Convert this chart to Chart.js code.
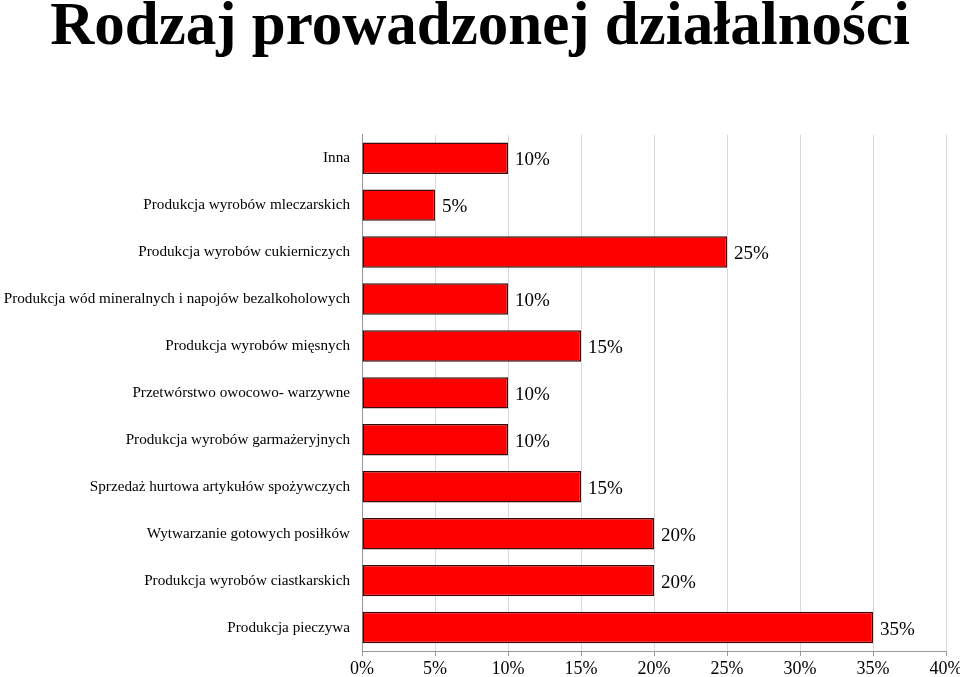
<!DOCTYPE html>
<html>
<head>
<meta charset="utf-8">
<script src="https://cdn.jsdelivr.net/npm/chart.js@4/dist/chart.umd.min.js"></script>
<style>
  html, body { margin: 0; padding: 0; background: #fff; }
  #wrap { width: 960px; height: 677px; }
</style>
</head>
<body>
<div id="wrap"><canvas id="chart" width="960" height="677"></canvas></div>
<script>
var categories = [
    'Inna',
    'Produkcja wyrobów mleczarskich',
    'Produkcja wyrobów cukierniczych',
    'Produkcja wód mineralnych i napojów bezalkoholowych',
    'Produkcja wyrobów mięsnych',
    'Przetwórstwo owocowo- warzywne',
    'Produkcja wyrobów garmażeryjnych',
    'Sprzedaż hurtowa artykułów spożywczych',
    'Wytwarzanie gotowych posiłków',
    'Produkcja wyrobów ciastkarskich',
    'Produkcja pieczywa'
];
var shares = [10, 5, 25, 10, 15, 10, 10, 15, 20, 20, 35];
var axisTicks = [0, 5, 10, 15, 20, 25, 30, 35, 40];

var serif = '"Liberation Serif", "Times New Roman", serif';

// value labels to the right of each bar
var valueLabels = {
    id: 'valueLabels',
    afterDatasetsDraw: function (chart) {
        var c = chart.ctx;
        var meta = chart.getDatasetMeta(0);
        c.save();
        c.font = '19px ' + serif;
        c.fillStyle = '#000';
        c.textAlign = 'left';
        c.textBaseline = 'middle';
        meta.data.forEach(function (bar, i) {
            c.fillText(shares[i] + '%', bar.x + 7, bar.y + 2);
        });
        c.restore();
    }
};

var ctx = document.getElementById('chart');
new Chart(ctx, {
    type: 'bar',
    data: {
        labels: categories,
        datasets: [{
            data: shares,
            backgroundColor: '#ff0000',
            borderColor: '#3a0a0a',
            borderWidth: 1.5,
            borderSkipped: false,
            categoryPercentage: 1,
            barPercentage: 0.67
        }]
    },
    options: {
        indexAxis: 'y',
        responsive: false,
        animation: false,
        layout: { padding: 0 },
        plugins: {
            legend: { display: false },
            tooltip: { enabled: false },
            title: {
                display: true,
                text: 'Rodzaj prowadzonej działalności',
                color: '#000',
                font: { family: serif, size: 61, weight: 'bold', lineHeight: 0.93 },
                padding: { top: 0, bottom: 78 }
            }
        },
        scales: {
            x: {
                min: 0,
                max: 40,
                afterBuildTicks: function (scale) {
                    scale.ticks = axisTicks.map(function (v) { return { value: v }; });
                },
                afterFit: function (scale) {
                    scale.height = 26;
                    scale.paddingRight = 14;
                },
                grid: { color: '#d9d9d9', tickColor: '#999', tickLength: 5, lineWidth: 1 },
                border: { display: true, color: '#999' },
                ticks: {
                    color: '#000',
                    padding: 2,
                    font: { family: serif, size: 18 },
                    callback: function (v) { return v + '%'; }
                }
            },
            y: {
                grid: { display: false },
                border: { display: true, color: '#999' },
                afterFit: function (scale) { scale.width = 362; },
                ticks: {
                    color: '#000',
                    padding: 4,
                    font: { family: serif, size: 15.2 }
                }
            }
        }
    },
    plugins: [valueLabels]
});
</script>
</body>
</html>
